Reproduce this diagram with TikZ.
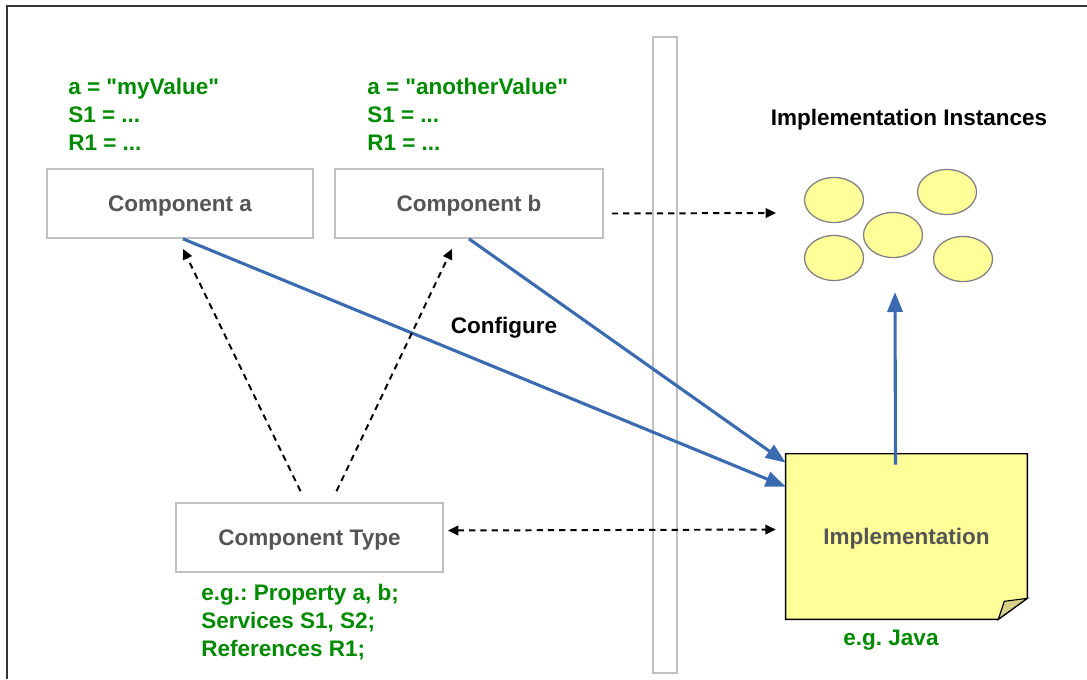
\documentclass[tikz,border=0pt]{standalone}
\usepackage{fontspec}
\setmainfont{Liberation Sans}[Ligatures=TeXOff]
\usetikzlibrary{arrows.meta,shapes.geometric,backgrounds}

\definecolor{txtgreen}{HTML}{008A00}
\definecolor{arrowblue}{HTML}{3A6AB0}
\definecolor{noteyellow}{HTML}{FFFF99}
\definecolor{foldyellow}{HTML}{D6D08A}
\definecolor{boxgray}{HTML}{C0C0C0}
\definecolor{labelgray}{HTML}{555555}
\definecolor{framegray}{HTML}{333333}

\newcommand{\bigfont}{\bfseries\fontsize{16}{20}\selectfont\frenchspacing}

\tikzset{
  compbox/.style={draw=boxgray, line width=1.2pt, fill=white, inner sep=0pt,
    minimum height=1.725cm, text depth=0pt, text=labelgray, font=\bigfont},
  greentext/.style={text=txtgreen, font=\bigfont, align=left, inner sep=0pt},
  blacktext/.style={text=black, font=\bigfont, inner sep=0pt},
  instance/.style={ellipse, draw=gray, line width=0.9pt, fill=noteyellow,
    minimum width=1.475cm, minimum height=1.125cm, inner sep=0pt},
  config/.style={arrowblue, line width=2.2pt, -{Triangle[length=0.5cm,width=0.38cm]}},
  relation/.style={black, line width=1.4pt, dash pattern=on 4.5pt off 3.5pt,
    -{Triangle[length=0.26cm,width=0.24cm]}},
}

\begin{document}
\begin{tikzpicture}[x=0.025cm, y=-0.025cm]
  \useasboundingbox (0,0) rectangle (1087,679);

  % Drawing frame
  \draw [framegray, line width=1.6pt] (7,679) -- (7,6) -- (1087,6);%

  % Drawing separator bar
  \draw [boxgray, line width=1.4pt, fill=white] (653,37) rectangle (677,673);%

  % Component boxes
  \node [compbox, minimum width=6.65cm] (compa) at (180,203.5) {Component a};%
  \node [compbox, minimum width=6.7cm] (compb) at (469,203.5) {Component b};%
  \node [compbox, minimum width=6.675cm] (comptype) at (309.5,537.5) {Component Type};%

  % Property values
  \node [greentext, anchor=west] (valsa) at (68,114) {a = "myValue"\\S1 = ...\\R1 = ...};%
  \node [greentext, anchor=west] (valsb) at (367,114) {a = "anotherValue"\\S1 = ...\\R1 = ...};%
  \node [greentext, anchor=west] (typedesc) at (201,622) {e.g.: Property a, b;\\Services S1, S2;\\References R1;};%

  % Implementation note
  \node [minimum width=6.025cm, minimum height=4.125cm, inner sep=0pt, text depth=0pt,
         text=labelgray, font=\bigfont] (impl) at (906.5,536.5) {Implementation};%
  \begin{scope}[on background layer]
    \draw [black, line width=1pt, fill=noteyellow] (impl.north west) -- (impl.north east)
      -- ([shift={(0,-21)}]impl.south east) -- ([shift={(-29,0)}]impl.south east)
      -- (impl.south west) -- cycle;%
    \draw [black, line width=0.8pt, fill=foldyellow] ([shift={(-29,0)}]impl.south east)
      -- ([shift={(-23,-18)}]impl.south east) -- ([shift={(0,-21)}]impl.south east) -- cycle;%
  \end{scope}
  \node [txtgreen, font=\bigfont, inner sep=0pt] (java) at (891,640) {e.g. Java};%

  % Implementation instances
  \node [blacktext] (instlabel) at (909,120) {Implementation Instances};%
  \foreach \name/\px/\py in {insta/834/200, instb/947/192, instc/893/235, instd/834/258, inste/963/259}
    \node [instance] (\name) at (\px,\py) {};%
  \coordinate (instin) at (776,213);%
  \coordinate (insttip) at (895,292);%

  % Configure arrows
  \draw [config] ([shift={(3,0)}]compa.south) -- ([shift={(0,33)}]impl.north west);%
  \draw [config] (compb.south) -- ([shift={(0,9)}]impl.north west);%
  \draw [config] ([shift={(-11,11)}]impl.north) -- (insttip);%
  \node [blacktext] (configure) at (504,328) {Configure};%

  % Dashed relations
  \draw [relation] ([shift={(8,10)}]compb.east) -- (instin);%
  \draw [relation, {Triangle[length=0.26cm,width=0.24cm]}-{Triangle[length=0.26cm,width=0.24cm]}]
    ([shift={(4,-7)}]comptype.east) -- ([shift={(-10,-7)}]impl.west);%
  \draw [relation] ([shift={(-9,-11)}]comptype.north) -- ([shift={(3,10)}]compa.south);%
  \draw [relation] ([shift={(27,-11)}]comptype.north) -- ([shift={(-17,10)}]compb.south);%
\end{tikzpicture}
\end{document}
